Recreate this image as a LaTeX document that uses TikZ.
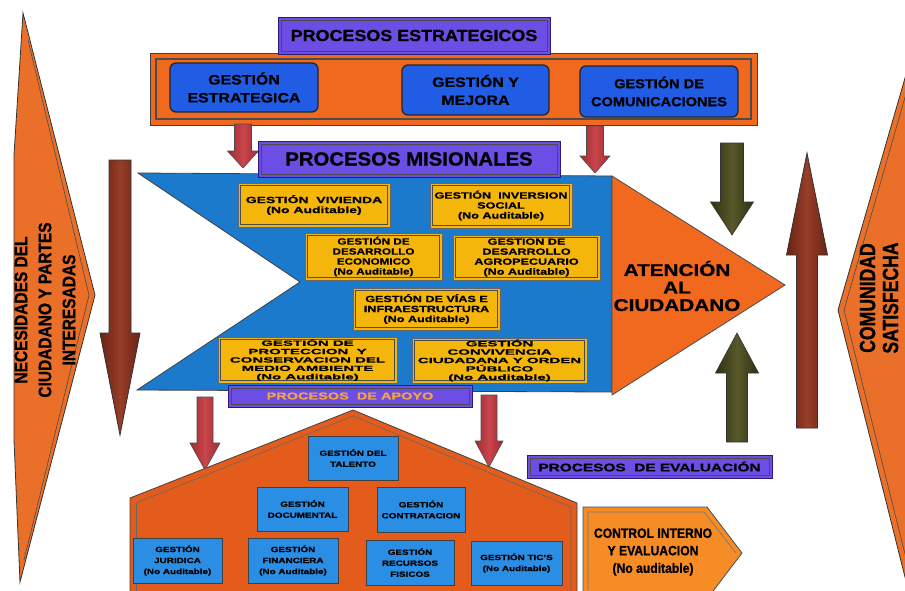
\documentclass[tikz,border=0pt]{standalone}
\usepackage{fontspec}
\setmainfont{Liberation Sans}
\usetikzlibrary{shapes.geometric}
\definecolor{corange}{RGB}{240,105,30}
\definecolor{cbig}{RGB}{234,112,42}
\definecolor{cpurple}{RGB}{108,78,228}
\definecolor{cpurpleD}{RGB}{45,25,120}
\definecolor{ctopblue}{RGB}{32,92,228}
\definecolor{cchev}{RGB}{28,122,205}
\definecolor{cyellow}{RGB}{245,182,12}
\definecolor{chouse}{RGB}{228,92,28}
\definecolor{chblue}{RGB}{42,142,228}
\definecolor{cred}{RGB}{165,40,48}
\definecolor{credL}{RGB}{200,70,78}
\definecolor{cbrown}{RGB}{108,34,20}
\definecolor{cbrownL}{RGB}{150,62,40}
\definecolor{colive}{RGB}{48,48,20}
\definecolor{coliveL}{RGB}{88,88,42}
\definecolor{cctrl}{RGB}{246,140,38}
\definecolor{capoyo}{RGB}{246,165,60}
\newcommand\fnt[3]{\fontsize{#1}{#2}\selectfont\addfontfeature{FakeStretch=#3,FakeBold=1}}
\newcommand\fatarrow[7]{\path[#1] ({#2-#5},#3) -- ({#2+#5},#3) -- ({#2+#5},{#4-#7}) -- ({#2+#6},{#4-#7}) -- (#2,#4) -- ({#2-#6},{#4-#7}) -- ({#2-#5},{#4-#7}) -- cycle;}
\tikzset{
  inset/.style 2 args={path picture={\draw[black!70, line width=#1] ([xshift=#2,yshift=-#2]path picture bounding box.north west) rectangle ([xshift=-#2,yshift=#2]path picture bounding box.south east);}},
  orangebar/.style={draw=black!75, fill=corange, line width=0.8pt, inset={1.2pt}{6pt}},
  purplebox/.style={draw=cpurpleD, fill=cpurple, line width=1pt, inset={0.8pt}{3pt}, inner sep=0pt},
  topblue/.style={draw=black!85, fill=ctopblue, rounded corners=6pt, line width=1.3pt, align=center, font=\bfseries\fnt{13.5}{18}{1.18}},
  yel/.style={draw=black!60, fill=cyellow, line width=0.8pt, inset={0.5pt}{2.5pt}, align=center, inner sep=1pt, font=\bfseries\fnt{9}{10}{1.4}},
  yelwide/.style={yel, font=\bfseries\fnt{7.5}{8.4}{2.0}},
  hblue/.style={draw=black!75, fill=chblue, line width=1pt, align=center, inner sep=1pt, font=\bfseries\fnt{7.5}{11}{1.32}},
  bigarrow/.style={draw=black!80, fill=cbig, line width=0.8pt},
  redarrow/.style={draw=black!70, line width=0.6pt, left color=cred, right color=cred, middle color=credL},
  brownarrow/.style={draw=black!80, line width=0.8pt, left color=cbrown, right color=cbrown, middle color=cbrownL},
  olivearrow/.style={draw=black!80, line width=0.6pt, left color=colive, right color=colive, middle color=coliveL},
}
\begin{document}
\begin{tikzpicture}[x=1pt,y=-1pt]
\clip (0,0) rectangle (905,590);
\fill[white] (0,0) rectangle (905,590);

% big side arrows
\path[bigarrow] (23,13) -- (95,295) -- (20,582) -- (14,440) -- (14,155) -- cycle;
\draw[black!70, line width=0.6pt] (28,40) -- (89,295) -- (24,560);
\node[rotate=90, align=center, font=\bfseries\fnt{18}{24}{0.86}] (necesidades) at (45,310) {NECESIDADES DEL\\CIUDADANO Y PARTES\\INTERESADAS};

\path[bigarrow] (838,310) -- (918,33) -- (950,33) -- (950,605) -- (912,605) -- cycle;
\draw[black!70, line width=0.6pt] (920,45) -- (844,310) -- (914,590);
\node[rotate=90, align=center, font=\bfseries\fnt{22}{23}{0.8}] (comunidad) at (879,298) {COMUNIDAD\\SATISFECHA};

% brown long arrows
\fatarrow{brownarrow}{120}{160}{435}{11}{20}{102}
\fatarrow{brownarrow}{807}{428}{153}{10.5}{20.5}{-102}

% strategic processes
\node[orangebar, minimum width=607, minimum height=72] (estrbar) at (453.5,89) {};
\node[purplebox, minimum width=272, minimum height=37, font=\bfseries\fnt{16}{18}{1.12}] (pestr) at (414,35.5) {PROCESOS ESTRATEGICOS};
\node[topblue, minimum width=148, minimum height=49] (gestr) at (244,87.5) {GESTIÓN\\ESTRATEGICA};
\node[topblue, minimum width=147, minimum height=50] (gmej) at (475.5,90) {GESTIÓN Y\\MEJORA};
\node[topblue, minimum width=158, minimum height=51, font=\bfseries\fnt{13}{18}{1.12}] (gcom) at (659,91.5) {GESTIÓN DE\\COMUNICACIONES};

\fatarrow{redarrow}{243}{124}{168}{8.5}{15.5}{17}
\fatarrow{redarrow}{595}{126}{173}{8.5}{15}{17}

% missional processes
\path[draw=black!75, fill=cchev, line width=0.8pt] (138,173) -- (612,176) -- (612,392) -- (137,390) -- (300,282) -- cycle;
\path[draw=black!70, fill=corange, line width=0.8pt] (612,176) -- (785,285) -- (612,395) -- cycle;
\node[align=center, font=\bfseries\fnt{17}{17.5}{1.22}] (atencion) at (677,286) {ATENCIÓN\\AL\\CIUDADANO};
\node[purplebox, minimum width=302, minimum height=36, font=\bfseries\fnt{19}{20}{1.07}] (pmis) at (409,159) {PROCESOS MISIONALES};

\node[yel, minimum width=152, minimum height=44, font=\bfseries\fnt{9}{10}{1.55}] (viv) at (314,205) {GESTIÓN~~VIVIENDA\\(No Auditable)};
\node[yel, minimum width=142, minimum height=45] (inv) at (501,205.5) {GESTIÓN~~INVERSION\\SOCIAL\\(No Auditable)};
\node[yel, minimum width=137, minimum height=47, font=\bfseries\fnt{9}{10}{1.3}] (eco) at (373.5,256.5) {GESTIÓN DE\\DESARROLLO\\ECONOMICO\\(No Auditable)};
\node[yel, minimum width=147, minimum height=45] (agro) at (526.5,257.5) {GESTION DE\\DESARROLLO\\AGROPECUARIO\\(No Auditable)};
\node[yel, minimum width=147, minimum height=42] (vias) at (426.5,309) {GESTIÓN DE VÍAS E\\INFRAESTRUCTURA\\(No Auditable)};
\node[yelwide, minimum width=179, minimum height=46] (amb) at (307.5,360) {GESTIÓN DE\\PROTECCION~~Y\\CONSERVACION DEL\\MEDIO AMBIENTE\\(No Auditable)};
\node[yelwide, minimum width=175, minimum height=45] (conv) at (499.5,360.5) {GESTIÓN\\CONVIVENCIA\\CIUDADANA Y ORDEN\\PÚBLICO\\(No Auditable)};

% evaluation arrows
\fatarrow{olivearrow}{732}{143}{235}{11.5}{21.5}{33}
\fatarrow{olivearrow}{737}{442}{333}{10.5}{21.5}{-40}

% support processes
\fatarrow{redarrow}{205}{397}{470}{8}{15}{27}
\fatarrow{redarrow}{489}{395}{467}{8}{14}{26}
\node[purplebox, minimum width=244, minimum height=22, text=capoyo, font=\bfseries\fnt{10}{12}{1.45}] (papoyo) at (350,396) {PROCESOS~~DE APOYO};

\path[draw=black!75, fill=chouse, line width=0.8pt] (130,498) -- (353,410) -- (577,503) -- (577,600) -- (130,600) -- cycle;
\draw[black!60, line width=0.6pt] (136,503) -- (353,416) -- (571,507) -- (571,600);
\draw[black!60, line width=0.6pt] (136,503) -- (136,600);

\node[hblue, minimum width=90, minimum height=44] (tal) at (353,458) {GESTIÓN DEL\\TALENTO};
\node[hblue, minimum width=91, minimum height=44] (doc) at (302.5,509) {GESTIÓN\\DOCUMENTAL};
\node[hblue, minimum width=88, minimum height=45] (con) at (421,509.5) {GESTIÓN\\CONTRATACION};
\node[hblue, minimum width=89, minimum height=45] (jur) at (177.5,560.5) {GESTIÓN\\JURIDICA\\(No Auditable)};
\node[hblue, minimum width=90, minimum height=45] (fin) at (293,560.5) {GESTIÓN\\FINANCIERA\\(No Auditable)};
\node[hblue, minimum width=88, minimum height=45] (rec) at (410,562.5) {GESTIÓN\\RECURSOS\\FISICOS};
\node[hblue, minimum width=91, minimum height=44] (tic) at (516.5,563) {GESTIÓN TIC'S\\(No Auditable)};

% evaluation processes
\node[purplebox, minimum width=245, minimum height=23, font=\bfseries\fnt{11}{12}{1.4}] (peval) at (649.5,466.5) {PROCESOS~~DE EVALUACIÓN};

\path[draw=black!70, fill=cctrl, line width=0.8pt] (583,507) -- (707,507) -- (742,553) -- (707,599) -- (583,599) -- cycle;
\draw[black!55, line width=0.6pt] (588,590) -- (588,512) -- (704,512) -- (736,553);
\node[align=center, font=\bfseries\fnt{13.5}{17.5}{0.9}] (control) at (653,552) {CONTROL INTERNO\\Y EVALUACION\\(No auditable)};
\end{tikzpicture}
\end{document}
